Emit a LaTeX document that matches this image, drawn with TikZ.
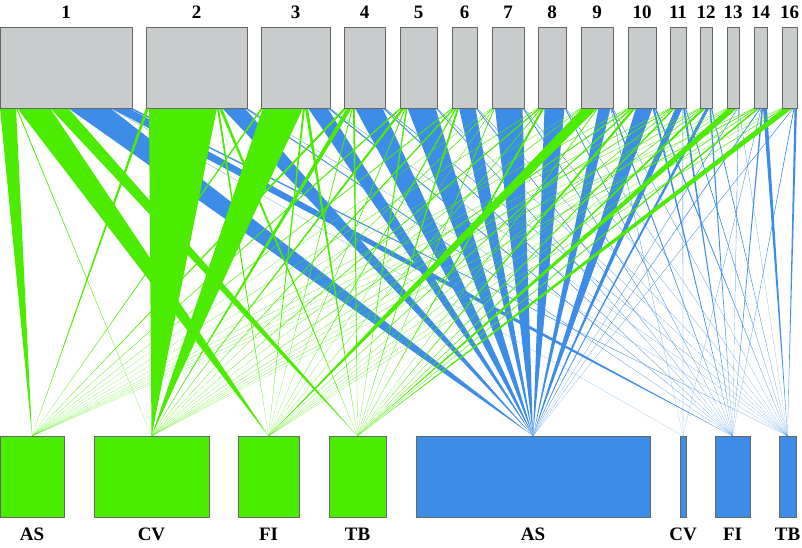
\documentclass[tikz,border=0pt]{standalone}
\usepackage{fontspec}
\setmainfont{Liberation Serif}
\usetikzlibrary{positioning,calc}
\definecolor{boxgray}{RGB}{200,204,204}
\definecolor{flowgreen}{RGB}{76,236,0}
\definecolor{flowblue}{RGB}{61,141,232}
\pgfdeclarelayer{blueflow}
\pgfdeclarelayer{greenflow}
\pgfsetlayers{blueflow,greenflow,main}
\begin{document}
\begin{tikzpicture}[x=1pt,y=-1pt,
    box/.style={draw=black!60,line width=0.6pt,inner sep=0,outer sep=0,anchor=north west,minimum height=81pt},
    topbox/.style={box,fill=boxgray},
    gbox/.style={box,fill=flowgreen},
    bbox/.style={box,fill=flowblue},
    lab/.style={inner sep=0,font=\fontsize{19}{19}\selectfont\bfseries}]
    \useasboundingbox (0,0) rectangle (802,547);

    % Categories (bottom row)
    \foreach \k/\xl/\w/\lab in {1/0/64/AS,2/94/115/CV,3/238/61/FI,4/329/57/TB,
                               5/416/234/AS,6/680/6/CV,7/715/35/FI,8/779/17/TB}{
        \ifnum\k<5 \def\sty{gbox}\else\def\sty{bbox}\fi
        \node[\sty,minimum width=\w pt] (cat\k) at (\xl,436) {};
        \node[lab,below=11pt of cat\k] (lcat\k) {\lab};
    }

    % Clusters (top row) and their flows
    \foreach \n/\xl/\w/\flows in {
        1/0/132/{16,1,33,18,42,0.5,18,3.5},
        2/146/101/{3,68,2,3,22.5,0,2,0.5},
        3/261/69/{2,40,2,3,19.5,0,2,0.5},
        4/344/41/{3,5,1,2,27.5,0,1.5,1},
        5/400/37/{2,3,1,1.5,28,0,1,0.5},
        6/452/25/{1.5,2,1.5,2,16.5,0,1,0.5},
        7/492/32/{0.5,1,0.5,1,27.5,0,1,0.5},
        8/538/28/{1,2,1,2.5,20,0,1,0.5},
        9/581/32/{0.5,1,15,1,12,0.5,1.5,0.5},
        10/628/28/{1,2,2,3,16.5,0,2,1.5},
        11/670/16/{1,1.5,1,2,7,0.5,2,1},
        12/700/12/{1,1,1,3,3.5,0,1.5,1},
        13/727/12/{0.5,0.5,0.5,9,0.7,0,0.5,0.3},
        14/754/13/{1,1.5,1,2.5,1,0.5,1.5,4},
        16/782/15/{0.5,0.5,1,9,0.7,0,0.8,2.5}}{
        \node[topbox,minimum width=\w pt] (t\n) at (\xl,27) {};
        \node[lab,above=8pt of t\n] (lt\n) {\n};
        \xdef\acc{0}
        \foreach \f [count=\k] in \flows {
            \pgfmathsetmacro\nxt{\acc+\f}
            \ifnum\k<5 \def\lay{greenflow}\def\col{flowgreen}\else\def\lay{blueflow}\def\col{flowblue}\fi
            \ifdim\f pt>0pt
            \begin{pgfonlayer}{\lay}
                \fill[\col] ($(t\n.south west)+(\acc,0)$) -- ($(t\n.south west)+(\nxt,0)$) -- (cat\k.north) -- cycle;
            \end{pgfonlayer}
            \fi
            \xdef\acc{\nxt}
        }
    }
\end{tikzpicture}
\end{document}
